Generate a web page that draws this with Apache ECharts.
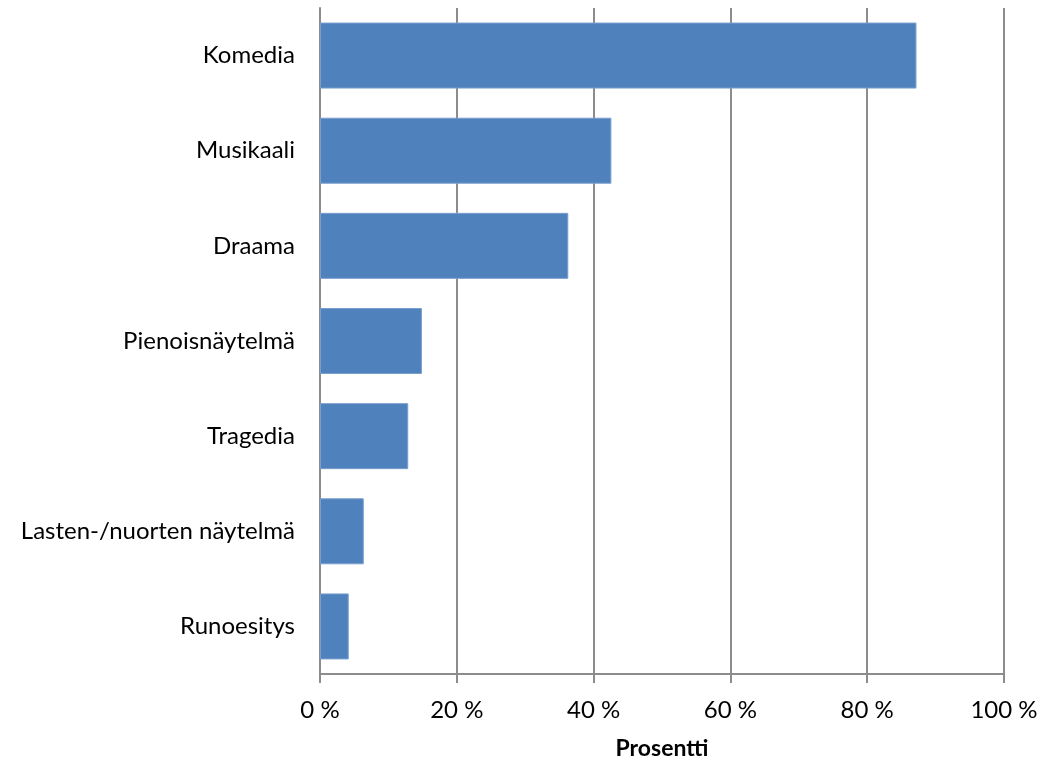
<!DOCTYPE html>
<html>
<head>
<meta charset="utf-8">
<script src="https://cdn.jsdelivr.net/npm/echarts@6/dist/echarts.min.js"></script>
<style>
  html, body { margin: 0; padding: 0; background: #fff; }
  #chart { width: 1046px; height: 762px; }
</style>
</head>
<body>
<div id="chart"></div>
<script>
// Esityslajit, ylhäältä alas
const categories = ['Komedia', 'Musikaali', 'Draama', 'Pienoisnäytelmä', 'Tragedia', 'Lasten-/nuorten näytelmä', 'Runoesitys'];
// Osuus vastaajista (%)
const values = [87.2, 42.6, 36.3, 14.9, 12.9, 6.4, 4.2];
const xTicks = [0, 20, 40, 60, 80, 100];
const xTitle = 'Prosentti';

const font = 'Lato, "Open Sans", sans-serif';
const gridColor = '#8c8c8c';

const chart = echarts.init(document.getElementById('chart'), null, { renderer: 'canvas' });
chart.setOption({
  animation: false,
  grid: { left: 320, right: 42, top: 8, bottom: 88, containLabel: false, outerBoundsMode: 'none' },
  xAxis: {
    type: 'value',
    min: xTicks[0],
    max: xTicks[xTicks.length - 1],
    interval: xTicks[1] - xTicks[0],
    name: xTitle,
    nameLocation: 'middle',
    nameGap: 63,
    nameTextStyle: { fontFamily: font, fontSize: 23, fontWeight: 'bold', color: '#000' },
    axisLine: { show: true, lineStyle: { color: gridColor, width: 2 } },
    axisTick: { show: true, length: 9, lineStyle: { color: gridColor, width: 2 } },
    axisLabel: { fontFamily: font, fontSize: 24, color: '#000', margin: 24, formatter: v => v + ' %' },
    splitLine: { show: true, lineStyle: { color: gridColor, width: 2 } }
  },
  yAxis: {
    type: 'category',
    data: categories,
    inverse: true,
    axisLine: { show: true, lineStyle: { color: gridColor, width: 2 } },
    axisTick: { show: false },
    axisLabel: { fontFamily: font, fontSize: 24, color: '#000', margin: 25 }
  },
  series: [{
    type: 'bar',
    data: values,
    barWidth: 66,
    itemStyle: { color: '#4F81BD', borderColor: '#7a9fcf', borderWidth: 1 }
  }]
});
</script>
</body>
</html>
